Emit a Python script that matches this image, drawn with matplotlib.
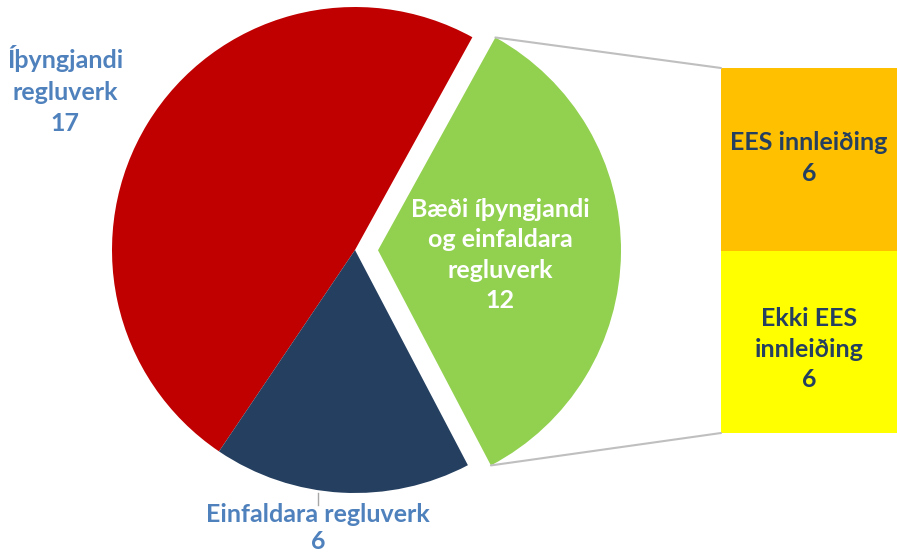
import numpy as np
import matplotlib.pyplot as plt
from matplotlib.patches import ConnectionPatch

plt.rcParams['font.family'] = ['Lato', 'DejaVu Sans']

# Pie data (order: exploded slice first, then counter-clockwise)
pie_labels = ["Bæði íþyngjandi\nog einfaldara\nregluverk", "Íþyngjandi\nregluverk", "Einfaldara regluverk"]
pie_values = [12, 17, 6]
pie_colors = ["#92D050", "#C00000", "#243F60"]

# Breakdown bar of the exploded slice (bottom to top)
bar_labels = ["Ekki EES\ninnleiðing", "EES innleiðing"]
bar_values = [6, 6]
bar_colors = ["#FFFF00", "#FFC000"]

label_blue = "#4F81BD"
bar_text = "#243F60"

fig = plt.figure(figsize=(8.97, 5.55), dpi=100)
ax = fig.add_axes([0, 0, 1, 1])

total = sum(pie_values)
green_angle = pie_values[0] / total * 360
start = -green_angle / 2 - 0.6
wedges, _ = ax.pie(pie_values, colors=pie_colors, startangle=start,
                   center=(355, 305), radius=243, explode=[23, 0, 0],
                   wedgeprops=dict(linewidth=0), frame=True)
ax.set_xlim(0, 897)
ax.set_ylim(0, 555)
ax.set_aspect('equal')
ax.axis('off')

# pie labels
fs = 18
ax.text(65, 465, f"{pie_labels[1]}\n{pie_values[1]}", ha='center', va='center',
        color=label_blue, fontsize=fs, fontweight='bold', linespacing=1.45)
ax.text(318, 27, f"{pie_labels[2]}\n{pie_values[2]}", ha='center', va='center',
        color=label_blue, fontsize=fs, fontweight='bold', linespacing=1.25)
ax.plot([318, 318], [50, 62], color="#A6A6A6", lw=1)
ax.text(500, 300, f"{pie_labels[0]}\n{pie_values[0]}", ha='center', va='center',
        color='white', fontsize=fs, fontweight='bold', linespacing=1.4)

# bar of pie
bax = fig.add_axes([721 / 897, 122 / 555, 176 / 897, 365 / 555])
bottom = 0
offsets = [-0.25, 0.05]
for lab, val, col, off in zip(bar_labels, bar_values, bar_colors, offsets):
    bax.bar(0, val, bottom=bottom, width=1, color=col, align='center')
    bax.text(0, bottom + val / 2 + off, f"{lab}\n{val}", ha='center', va='center',
             color=bar_text, fontsize=fs, fontweight='bold', linespacing=1.4)
    bottom += val
bax.set_xlim(-0.5, 0.5)
bax.set_ylim(0, sum(bar_values))
bax.axis('off')

# connector lines from exploded wedge to bar
w = wedges[0]
cx, cy = w.center
r = w.r
for theta, ybar in [(w.theta2, sum(bar_values)), (w.theta1, 0)]:
    px = cx + r * np.cos(np.radians(theta))
    py = cy + r * np.sin(np.radians(theta))
    con = ConnectionPatch(xyA=(px, py), coordsA=ax.transData,
                          xyB=(-0.5, ybar), coordsB=bax.transData,
                          color="#BFBFBF", lw=1.5)
    fig.add_artist(con)

plt.savefig("out.png", dpi=100)
